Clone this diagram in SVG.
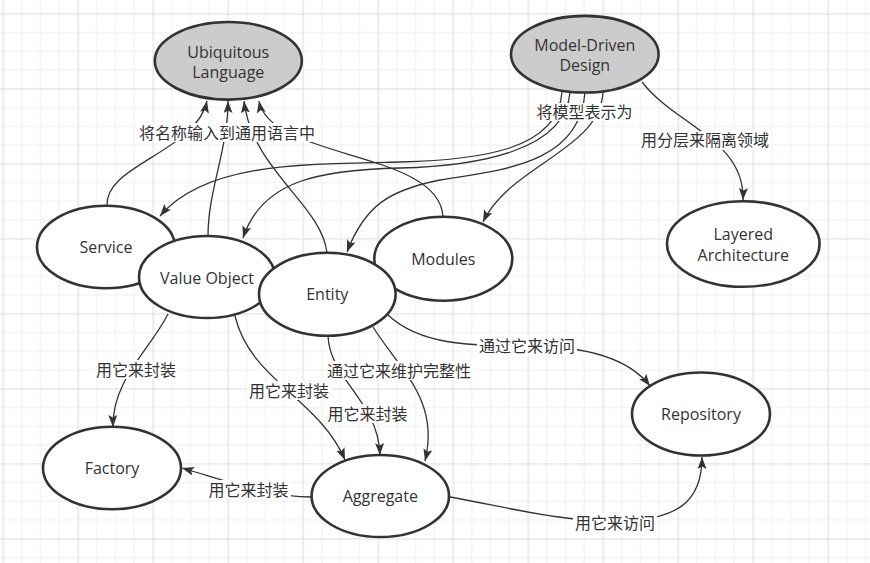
<svg xmlns="http://www.w3.org/2000/svg" width="870" height="563" viewBox="0 0 870 563">
<defs>
<pattern id="grid" patternUnits="userSpaceOnUse" x="2.5" y="13.3" width="75" height="75">
<rect x="0" y="0" width="75" height="75" fill="#ffffff"/>
<rect x="18.75" y="0" width="1" height="75" fill="#efefef"/>
<rect x="37.5" y="0" width="1" height="75" fill="#efefef"/>
<rect x="56.25" y="0" width="1" height="75" fill="#efefef"/>
<rect x="0" y="18.75" width="75" height="1" fill="#efefef"/>
<rect x="0" y="37.5" width="75" height="1" fill="#efefef"/>
<rect x="0" y="56.25" width="75" height="1" fill="#efefef"/>
<rect x="0" y="0" width="1.3" height="75" fill="#e2e2e2"/>
<rect x="0" y="0" width="75" height="1.3" fill="#e2e2e2"/>
</pattern>
<marker id="arr" markerUnits="userSpaceOnUse" markerWidth="13" markerHeight="10" refX="12" refY="4.5" orient="auto" viewBox="0 0 13 10">
<path d="M0,0 L12,4.5 L0,9 L2.5,4.5 z" fill="#333333"/>
</marker>
</defs>
<style>
.edge{fill:none;stroke:#333333;stroke-width:1.3;marker-end:url(#arr)}
.node ellipse{fill:#ffffff;stroke:#333333;stroke-width:2.6}
.node.gray ellipse{fill:#cccccc}
.node text{font-family:"Open Sans","Noto Sans","Noto Sans CJK SC",sans-serif;font-size:16px;fill:#333333;text-anchor:middle}
.lbl rect{fill:#ffffff}
.lbl text{font-family:"Noto Sans CJK SC","Noto Sans",sans-serif;font-size:16px;fill:#333333;text-anchor:middle}
</style>
<rect x="0" y="0" width="870" height="563" fill="url(#grid)"/>
<g id="connectors">
<path class="edge" d="M107,206 C104,165 196,152 207,101"/>
<path class="edge" d="M208,236 C208,190 228,150 228,101"/>
<path class="edge" d="M327,253 C322,205 252,170 244,101"/>
<path class="edge" d="M443,217 C440,150 270,160 259,101"/>
<path class="edge" d="M562,92 C558,150 480,160 400,162 C300,164 205,163 160,216"/>
<path class="edge" d="M570,92 C566,150 480,166 400,168 C320,170 262,180 243,238"/>
<path class="edge" d="M585,92 C580,165 500,170 440,180 C390,190 365,205 347,252"/>
<path class="edge" d="M603,92 C600,150 510,165 483,222"/>
<path class="edge" d="M642,82 C675,125 745,140 743,200"/>
<path class="edge" d="M168,314 C150,350 112,380 113,427"/>
<path class="edge" d="M235,316 C250,380 320,400 345,460"/>
<path class="edge" d="M328,336 C330,380 378,400 380,455"/>
<path class="edge" d="M373,327 C400,370 440,400 425,461"/>
<path class="edge" d="M388,315 C420,345 470,346 527,346 C590,346 630,360 650,386"/>
<path class="edge" d="M450,497 C520,510 560,521 615,521 C680,521 702,500 702,457"/>
<path class="edge" d="M312,497 C270,497 230,482 182,468"/>
<g class="lbl"><rect x="136" y="123" width="182" height="19"/><text x="227" y="138.5">将名称输入到通用语言中</text></g>
<g class="lbl"><rect x="535" y="103" width="99" height="18"/><text x="584.5" y="117.5">将模型表示为</text></g>
<g class="lbl"><rect x="639" y="131" width="132" height="19"/><text x="705" y="146">用分层来隔离领域</text></g>
<g class="lbl"><rect x="94" y="360" width="84" height="19"/><text x="136" y="376">用它来封装</text></g>
<g class="lbl"><rect x="247" y="381" width="84" height="19"/><text x="289" y="396.5">用它来封装</text></g>
<g class="lbl"><rect x="325" y="404" width="85" height="19"/><text x="367.5" y="419.5">用它来封装</text></g>
<g class="lbl"><rect x="325" y="361" width="148" height="19"/><text x="399" y="376.5">通过它来维护完整性</text></g>
<g class="lbl"><rect x="477" y="336" width="100" height="19"/><text x="527" y="351.5">通过它来访问</text></g>
<g class="lbl"><rect x="573" y="513" width="84" height="19"/><text x="615" y="528.5">用它来访问</text></g>
<g class="lbl"><rect x="206" y="480" width="85" height="19"/><text x="248.5" y="496">用它来封装</text></g>
</g>
<g id="ubiquitous-language" class="node gray"><ellipse cx="228.3" cy="60.8" rx="73.5" ry="38.8"/><text x="228.3" y="57.5">Ubiquitous</text><text x="228.3" y="77.5">Language</text></g>
<g id="model-driven-design" class="node gray"><ellipse cx="584.8" cy="54.2" rx="73.8" ry="38.3"/><text x="584.8" y="51">Model-Driven</text><text x="584.8" y="71">Design</text></g>
<g id="layered-architecture" class="node"><ellipse cx="743.3" cy="244" rx="76.3" ry="42.8"/><text x="743.3" y="240">Layered</text><text x="743.3" y="260.5">Architecture</text></g>
<g id="service" class="node"><ellipse cx="106" cy="247" rx="69" ry="41.3"/><text x="106" y="253">Service</text></g>
<g id="value-object" class="node"><ellipse cx="207" cy="277" rx="68" ry="41"/><text x="207" y="284">Value Object</text></g>
<g id="modules" class="node"><ellipse cx="443.3" cy="258.7" rx="69" ry="42"/><text x="443.3" y="265">Modules</text></g>
<g id="entity" class="node"><ellipse cx="327.3" cy="294.2" rx="68.3" ry="41.5"/><text x="327.3" y="300">Entity</text></g>
<g id="factory" class="node"><ellipse cx="112" cy="468" rx="69" ry="41.3"/><text x="112" y="474">Factory</text></g>
<g id="aggregate" class="node"><ellipse cx="380.3" cy="496" rx="68.7" ry="41"/><text x="380.3" y="502">Aggregate</text></g>
<g id="repository" class="node"><ellipse cx="701" cy="414" rx="69" ry="41.5"/><text x="701" y="420">Repository</text></g>
</svg>
